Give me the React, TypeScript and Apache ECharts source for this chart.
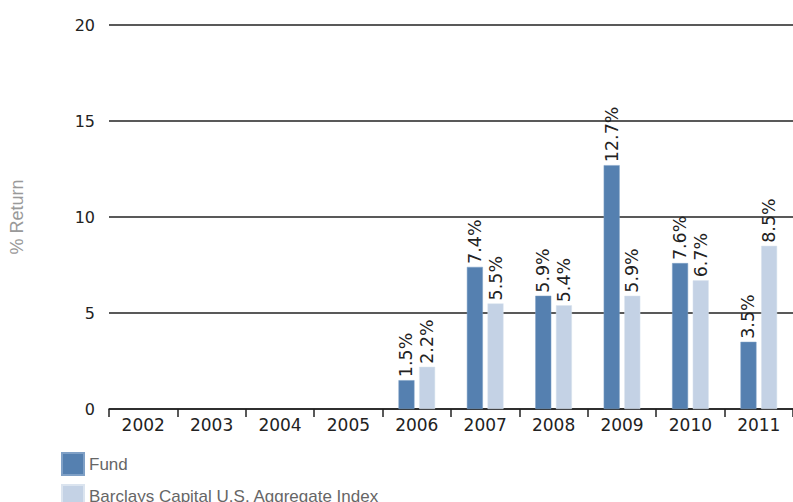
import React, { useEffect, useRef } from "react";
import * as echarts from "echarts";

const years = ["2002", "2003", "2004", "2005", "2006", "2007", "2008", "2009", "2010", "2011"];
const fundValues = [null, null, null, null, 1.5, 7.4, 5.9, 12.7, 7.6, 3.5];
const indexValues = [null, null, null, null, 2.2, 5.5, 5.4, 5.9, 6.7, 8.5];
const seriesNames = ["Fund", "Barclays Capital U.S. Aggregate Index"];
const seriesColors = ["#5580b0", "#c4d2e5"];

export default function App() {
  const ref = useRef<HTMLDivElement>(null);
  useEffect(() => {
    if (!ref.current) return;
    const chart = echarts.init(ref.current, null, { renderer: "svg" });
    const labelStyle = {
      show: true,
      position: "top" as const,
      rotate: 90,
      align: "left" as const,
      verticalAlign: "middle" as const,
      distance: 3,
      fontFamily: "DejaVu Sans",
      fontSize: 17.5,
      color: "#222",
      formatter: (p: any) => `${p.value}%`,
    };
    chart.setOption({
      animation: false,
      grid: { left: 104, right: 0, top: 25, bottom: 93, containLabel: false },
      legend: {
        orient: "vertical",
        left: 61,
        top: 452,
        height: 90,
        padding: 0,
        itemWidth: 22,
        itemHeight: 22,
        itemGap: 8,
        icon: "rect",
        textStyle: { fontFamily: "Liberation Sans", fontSize: 17, color: "#666" },
        data: seriesNames,
      },
      xAxis: {
        type: "category",
        data: years,
        axisLine: { lineStyle: { color: "#222", width: 1.5 } },
        axisTick: { show: true, length: 8, lineStyle: { color: "#222", width: 1.5 } },
        axisLabel: { fontFamily: "DejaVu Sans", fontSize: 17, color: "#222", margin: 7 },
      },
      yAxis: {
        type: "value",
        min: 0,
        max: 20,
        interval: 5,
        name: "% Return",
        nameLocation: "middle",
        nameGap: 83,
        nameTextStyle: { fontFamily: "Liberation Sans", fontSize: 18, color: "#999" },
        axisLine: { show: false },
        axisTick: { show: false },
        axisLabel: { fontFamily: "DejaVu Sans", fontSize: 16, color: "#222", margin: 14 },
        splitLine: { lineStyle: { color: "#222", width: 1.5 } },
      },
      series: [
        {
          name: seriesNames[0],
          type: "bar",
          data: fundValues,
          barWidth: 16,
          barGap: "29%",
          itemStyle: { color: seriesColors[0], borderColor: "#7fa0c6", borderWidth: 0.5 },
          label: labelStyle,
        },
        {
          name: seriesNames[1],
          type: "bar",
          data: indexValues,
          barWidth: 16,
          itemStyle: { color: seriesColors[1], borderColor: "#dbe4ef", borderWidth: 0.5 },
          label: labelStyle,
        },
      ],
    });
    return () => chart.dispose();
  }, []);
  return <div ref={ref} style={{ width: 793, height: 502, position: "absolute", left: 0, top: 0 }} />;
}
